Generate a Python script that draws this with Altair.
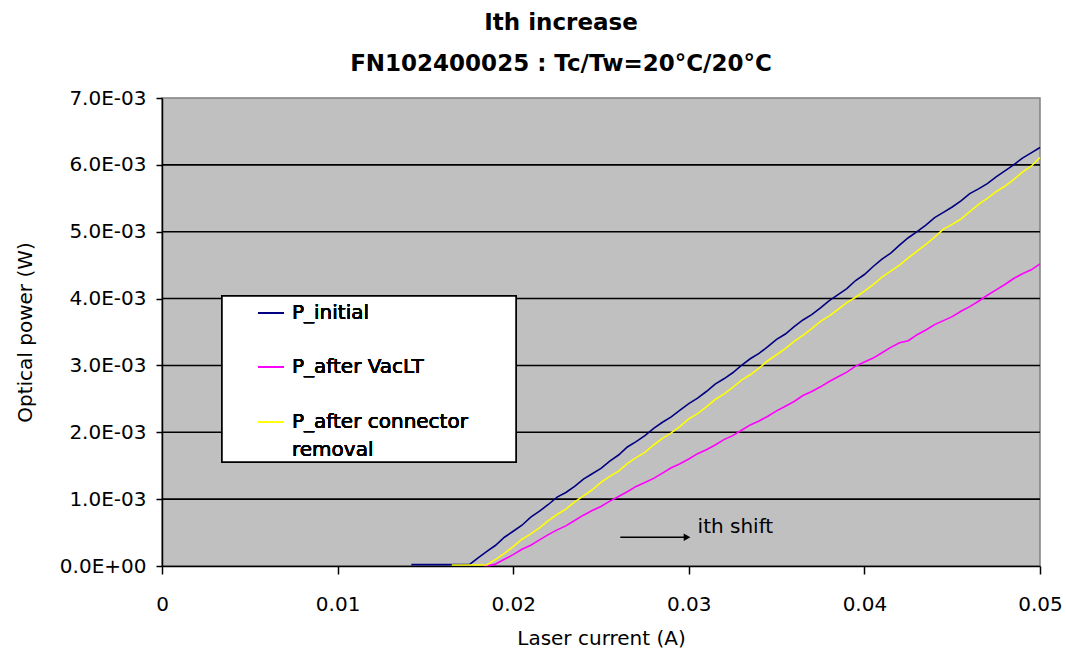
import altair as alt
import pandas as pd

# ---- data ----
# P_initial : laser current (A) / optical power (mW)
init_current = [0.0142, 0.0155, 0.0170,
                0.0175, 0.0180, 0.0185, 0.0190, 0.0195, 0.0200, 0.0205, 0.0210, 0.0215, 0.0220,
                0.0225, 0.0230, 0.0235, 0.0240, 0.0245, 0.0250, 0.0255, 0.0260, 0.0265, 0.0270,
                0.0275, 0.0280, 0.0285, 0.0290, 0.0295, 0.0300, 0.0305, 0.0310, 0.0315, 0.0320,
                0.0325, 0.0330, 0.0335, 0.0340, 0.0345, 0.0350, 0.0355, 0.0360, 0.0365, 0.0370,
                0.0375, 0.0380, 0.0385, 0.0390, 0.0395, 0.0400, 0.0405, 0.0410, 0.0415, 0.0420,
                0.0425, 0.0430, 0.0435, 0.0440, 0.0445, 0.0450, 0.0455, 0.0460, 0.0465, 0.0470,
                0.0475, 0.0480, 0.0485, 0.0490, 0.0495, 0.0500]
init_power_mw = [0.02, 0.02, 0.02,
                 0.02, 0.12, 0.22, 0.31, 0.43, 0.52, 0.61, 0.73, 0.82, 0.92,
                 1.03, 1.10, 1.19, 1.30, 1.38, 1.46, 1.57, 1.66, 1.78, 1.86,
                 1.95, 2.06, 2.15, 2.23, 2.33, 2.43, 2.51, 2.61, 2.72, 2.80,
                 2.89, 3.00, 3.10, 3.18, 3.28, 3.39, 3.47, 3.58, 3.68, 3.76,
                 3.86, 3.97, 4.06, 4.15, 4.27, 4.36, 4.48, 4.59, 4.68, 4.80,
                 4.91, 5.00, 5.10, 5.21, 5.29, 5.37, 5.46, 5.57, 5.64, 5.72,
                 5.82, 5.91, 6.00, 6.10, 6.18, 6.26]

# P_after VacLT
vac_current = [0.0183, 0.0187,
               0.0190, 0.0195, 0.0200, 0.0205, 0.0210, 0.0215, 0.0220, 0.0225, 0.0230, 0.0235,
               0.0240, 0.0245, 0.0250, 0.0255, 0.0260, 0.0265, 0.0270, 0.0275, 0.0280, 0.0285,
               0.0290, 0.0295, 0.0300, 0.0305, 0.0310, 0.0315, 0.0320, 0.0325, 0.0330, 0.0335,
               0.0340, 0.0345, 0.0350, 0.0355, 0.0360, 0.0365, 0.0370, 0.0375, 0.0380, 0.0385,
               0.0390, 0.0395, 0.0400, 0.0405, 0.0410, 0.0415, 0.0420, 0.0425, 0.0430, 0.0435,
               0.0440, 0.0445, 0.0450, 0.0455, 0.0460, 0.0465, 0.0470, 0.0475, 0.0480, 0.0485,
               0.0490, 0.0495, 0.0500]
vac_power_mw = [0.01, 0.01,
                0.03, 0.10, 0.17, 0.25, 0.31, 0.39, 0.47, 0.54, 0.60, 0.68,
                0.76, 0.83, 0.89, 0.97, 1.04, 1.11, 1.19, 1.25, 1.31, 1.39,
                1.47, 1.53, 1.60, 1.68, 1.74, 1.81, 1.89, 1.95, 2.03, 2.11,
                2.17, 2.24, 2.32, 2.39, 2.46, 2.55, 2.61, 2.68, 2.76, 2.83,
                2.90, 2.99, 3.05, 3.11, 3.19, 3.27, 3.34, 3.37, 3.46, 3.53,
                3.61, 3.67, 3.73, 3.81, 3.88, 3.96, 4.05, 4.13, 4.21, 4.30,
                4.37, 4.43, 4.52]

# P_after connector removal
conn_current = [0.0165, 0.0175, 0.0185,
                0.0190, 0.0195, 0.0200, 0.0205, 0.0210, 0.0215, 0.0220, 0.0225, 0.0230, 0.0235,
                0.0240, 0.0245, 0.0250, 0.0255, 0.0260, 0.0265, 0.0270, 0.0275, 0.0280, 0.0285,
                0.0290, 0.0295, 0.0300, 0.0305, 0.0310, 0.0315, 0.0320, 0.0325, 0.0330, 0.0335,
                0.0340, 0.0345, 0.0350, 0.0355, 0.0360, 0.0365, 0.0370, 0.0375, 0.0380, 0.0385,
                0.0390, 0.0395, 0.0400, 0.0405, 0.0410, 0.0415, 0.0420, 0.0425, 0.0430, 0.0435,
                0.0440, 0.0445, 0.0450, 0.0455, 0.0460, 0.0465, 0.0470, 0.0475, 0.0480, 0.0485,
                0.0490, 0.0495, 0.0500]
conn_power_mw = [0.015, 0.015, 0.015,
                 0.10, 0.19, 0.29, 0.40, 0.48, 0.57, 0.68, 0.77, 0.85, 0.96,
                 1.05, 1.14, 1.25, 1.34, 1.42, 1.53, 1.62, 1.70, 1.81, 1.91,
                 1.99, 2.09, 2.20, 2.28, 2.38, 2.49, 2.57, 2.67, 2.78, 2.86,
                 2.96, 3.07, 3.16, 3.25, 3.36, 3.45, 3.55, 3.66, 3.74, 3.84,
                 3.94, 4.02, 4.11, 4.21, 4.32, 4.41, 4.50, 4.61, 4.71, 4.81,
                 4.92, 5.04, 5.11, 5.19, 5.30, 5.41, 5.50, 5.60, 5.68, 5.78,
                 5.89, 5.98, 6.11]

series_names = ["P_initial", "P_after VacLT", "P_after connector removal"]
series_colors = ["#000080", "#FF00FF", "#FFFF00"]

y_ticks = [0.0, 0.001, 0.002, 0.003, 0.004, 0.005, 0.006, 0.007]
x_ticks = [0.0, 0.01, 0.02, 0.03, 0.04, 0.05]
grid_levels = [0.001, 0.002, 0.003, 0.004, 0.005, 0.006]

arrow_start = (0.0261, 0.00043)
arrow_end = (0.0299, 0.00043)
note_pos = (0.0305, 0.00059)
note_text = "ith shift"

# ---- build tables ----
rows = []
for name, xs, ys in [(series_names[0], init_current, init_power_mw),
                     (series_names[1], vac_current, vac_power_mw),
                     (series_names[2], conn_current, conn_power_mw)]:
    for i, (xv, yv) in enumerate(zip(xs, ys)):
        rows.append({"series": name, "current": xv, "power": yv / 1000.0, "i": i})
df = pd.DataFrame(rows)

grid_df = pd.DataFrame({"level": grid_levels})
arrow_df = pd.DataFrame({"x": [arrow_start[0]], "x2": [arrow_end[0]], "y": [arrow_start[1]]})
head_df = pd.DataFrame({"x": [arrow_end[0]], "y": [arrow_end[1]]})
note_df = pd.DataFrame({"x": [note_pos[0]], "y": [note_pos[1]], "t": [note_text]})

FONT = "DejaVu Sans"
W, H = 878, 468

xscale = alt.Scale(domain=[0, 0.05], nice=False, zero=False)
yscale = alt.Scale(domain=[0, 0.007], nice=False)

x_axis = alt.Axis(values=x_ticks, title="Laser current (A)", grid=False, labelFlush=False,
                  labelExpr="datum.value == 0 ? '0' : format(datum.value, '.2f')",
                  labelFont=FONT, labelFontSize=20, labelColor="black", labelPadding=20,
                  tickColor="black", tickSize=8, tickWidth=1.5, domainColor="black", domainWidth=1.5,
                  titleFont=FONT, titleFontSize=20, titleFontWeight="normal", titleColor="black",
                  titleY=72, titleBaseline="middle")
y_axis = alt.Axis(values=y_ticks, title="Optical power (W)", grid=False, labelFlush=False,
                  labelExpr="datum.value == 0 ? '0.0E+00' : format(datum.value * 1000, '.1f') + 'E-03'",
                  labelFont=FONT, labelFontSize=20, labelColor="black", labelPadding=10,
                  tickColor="black", tickSize=6, tickWidth=1.5, domainColor="black", domainWidth=1.5,
                  titleFont=FONT, titleFontSize=20, titleFontWeight="normal", titleColor="black",
                  titleX=-137, titleY=H / 2, titleBaseline="middle", titleAngle=-90)

grid = alt.Chart(grid_df).mark_rule(color="black", strokeWidth=1.6).encode(
    y=alt.Y("level:Q", scale=yscale, axis=y_axis),
)

lines = alt.Chart(df).mark_line(strokeWidth=1.6).encode(
    x=alt.X("current:Q", scale=xscale, axis=x_axis),
    y=alt.Y("power:Q", scale=yscale, axis=y_axis),
    color=alt.Color("series:N", scale=alt.Scale(domain=series_names, range=series_colors), legend=None),
    order="i:Q",
)

# legend box (pixel positions within the plot area)
LX0, LX1, LY0, LY1 = 60, 354, 198, 364
legend_box = alt.Chart(grid_df).mark_rect(fill="white", stroke="black", strokeWidth=1.5).encode(
    x=alt.value(LX0), x2=alt.value(LX1), y=alt.value(LY0), y2=alt.value(LY1)
)
legend_layers = [legend_box]
entry_y = [215, 269, 324]
for name, col, ey in zip(series_names, series_colors, entry_y):
    legend_layers.append(
        alt.Chart(grid_df).mark_rule(color=col, strokeWidth=1.6).encode(
            x=alt.value(96), x2=alt.value(122), y=alt.value(ey)
        )
    )
label_lines = [("P_initial", 215), ("P_after VacLT", 269), ("P_after connector", 324), ("removal", 352)]
for txt, ty in label_lines:
    legend_layers.append(
        alt.Chart(grid_df).mark_text(text=txt, font=FONT, fontSize=20, align="left",
                                     baseline="middle", color="black").encode(
            x=alt.value(130), y=alt.value(ty)
        )
    )

arrow = alt.Chart(arrow_df).mark_rule(color="black", strokeWidth=1.6).encode(
    x=alt.X("x:Q", scale=xscale), x2="x2:Q", y=alt.Y("y:Q", scale=yscale)
)
head = alt.Chart(head_df).mark_point(shape="triangle-right", filled=True, color="black",
                                     size=60, opacity=1).encode(
    x=alt.X("x:Q", scale=xscale), y=alt.Y("y:Q", scale=yscale)
)
note = alt.Chart(note_df).mark_text(font=FONT, fontSize=20, align="left", baseline="middle",
                                    color="black").encode(
    x=alt.X("x:Q", scale=xscale), y=alt.Y("y:Q", scale=yscale), text="t:N"
)

chart = alt.layer(grid, lines, *legend_layers, arrow, head, note).properties(
    width=W, height=H,
    autosize=alt.AutoSizeParams(type="none"),
    padding={"left": 162, "top": 98, "right": 26, "bottom": 91},
    background="white",
    title=alt.TitleParams(
        text=["Ith increase", "FN102400025 : Tc/Tw=20°C/20°C"],
        font=FONT, fontSize=23, fontWeight="bold", color="black",
        lineHeight=41, anchor="middle", dx=-40, offset=12,
    ),
).configure_view(fill="#C0C0C0", stroke="#808080", strokeWidth=1.5)

chart.save("out.html", embed_options={"renderer": "svg", "actions": False})
